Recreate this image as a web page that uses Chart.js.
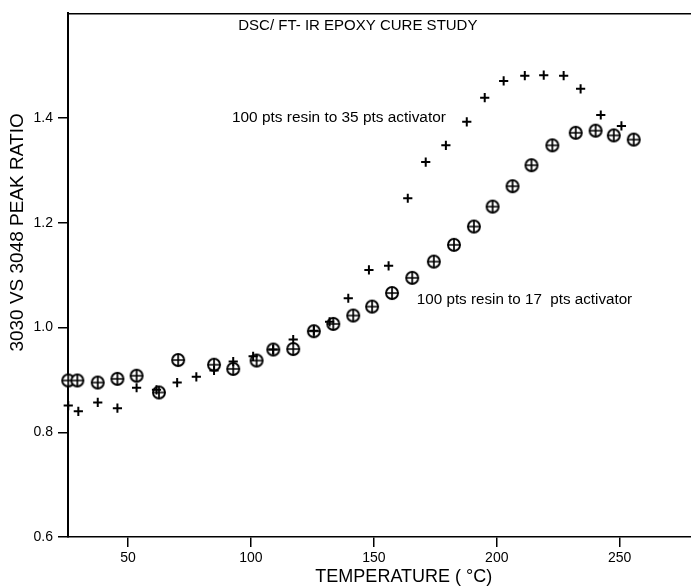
<!DOCTYPE html>
<html><head><meta charset="utf-8">
<script src="https://cdn.jsdelivr.net/npm/chart.js@4.4.1/dist/chart.umd.min.js"></script>
<style>html,body{margin:0;padding:0;background:#fff;overflow:hidden}#wrap{width:691px;height:588px}</style>
</head><body><div id="wrap"><canvas id="c" width="691" height="588"></canvas></div>
<script>
// 100 pts resin to 35 pts activator  (+ markers)
const tempHigh  = [25.7, 29.8, 37.7, 45.7, 53.5, 61.6, 70.0, 77.8, 85.0, 92.8, 100.9, 109.0, 117.2, 125.6, 132.0, 139.6, 148.0, 156.0, 163.8, 171.1, 179.3, 187.8, 195.1, 202.8, 211.4, 219.1, 227.2, 234.1, 242.3, 250.7];
const ratioHigh = [0.851, 0.840, 0.857, 0.846, 0.885, 0.881, 0.895, 0.906, 0.918, 0.935, 0.945, 0.958, 0.977, 0.994, 1.011, 1.056, 1.110, 1.118, 1.247, 1.316, 1.348, 1.393, 1.439, 1.471, 1.481, 1.482, 1.481, 1.456, 1.406, 1.385];
// 100 pts resin to 17 pts activator  (circled-plus markers)
const tempLow   = [25.7, 29.4, 37.7, 45.7, 53.5, 62.6, 70.4, 85.0, 92.8, 102.3, 109.1, 117.2, 125.6, 133.5, 141.6, 149.3, 157.4, 165.6, 174.4, 182.6, 190.7, 198.3, 206.4, 214.1, 222.6, 232.1, 240.2, 247.6, 255.7];
const ratioLow  = [0.899, 0.899, 0.895, 0.902, 0.908, 0.876, 0.938, 0.929, 0.921, 0.937, 0.958, 0.959, 0.993, 1.007, 1.023, 1.040, 1.066, 1.095, 1.126, 1.158, 1.193, 1.231, 1.270, 1.310, 1.348, 1.372, 1.376, 1.367, 1.359];
// tick labels
const xTickValues = [50, 100, 150, 200, 250];
const yTickValues = [0.6, 0.8, 1.0, 1.2, 1.4];
// texts
const chartTitle = 'DSC/ FT- IR EPOXY CURE STUDY';
const seriesHighLabel = '100 pts resin to 35 pts activator';
const seriesLowLabel = '100 pts resin to 17  pts activator';
const xTitle = 'TEMPERATURE ( °C)';
const yTitle = '3030 VS 3048 PEAK RATIO';

const FAMILY = "'Liberation Sans', Arial, Helvetica, sans-serif";
Chart.defaults.font.family = FAMILY;
Chart.defaults.color = '#000';

function circlePlus() {
  const s = 16, c = s / 2;
  const cv = document.createElement('canvas');
  cv.width = s; cv.height = s;
  const g = cv.getContext('2d');
  g.fillStyle = '#fff';
  g.strokeStyle = '#000'; g.lineWidth = 1.9;
  g.beginPath(); g.arc(c, c, 6, 0, Math.PI * 2); g.fill(); g.stroke();
  g.lineWidth = 1.7;
  g.beginPath(); g.moveTo(c, 1.5); g.lineTo(c, s - 1.5); g.moveTo(1.5, c); g.lineTo(s - 1.5, c); g.stroke();
  return cv;
}

const notes = [
  { text: chartTitle, x: 143.5, y: 1.577, align: 'center', size: 15 },
  { text: seriesHighLabel, x: 135.8, y: 1.401, align: 'center', size: 15.4 },
  { text: seriesLowLabel, x: 167.5, y: 1.053, align: 'left', size: 15.2 }
];
const notesPlugin = {
  id: 'notes',
  afterDatasetsDraw(chart) {
    const { ctx, scales } = chart;
    ctx.save();
    ctx.fillStyle = '#000';
    ctx.textBaseline = 'middle';
    notes.forEach(n => {
      ctx.font = n.size + 'px ' + FAMILY;
      ctx.textAlign = n.align;
      ctx.fillText(n.text, scales.x.getPixelForValue(n.x), scales.y.getPixelForValue(n.y));
    });
    ctx.restore();
  }
};

new Chart(document.getElementById('c'), {
  type: 'scatter',
  data: {
    datasets: [
      {
        label: seriesHighLabel,
        data: tempHigh.map((t, i) => ({ x: t, y: ratioHigh[i] })),
        xAxisID: 'x', yAxisID: 'y',
        pointStyle: 'cross', pointRadius: 4.6, pointBorderWidth: 2,
        borderColor: '#000', backgroundColor: '#000', clip: false
      },
      {
        label: seriesLowLabel,
        data: tempLow.map((t, i) => ({ x: t, y: ratioLow[i] })),
        xAxisID: 'x', yAxisID: 'y',
        pointStyle: circlePlus(), pointRadius: 7,
        borderColor: '#000', backgroundColor: '#000', clip: false
      }
    ]
  },
  options: {
    responsive: false, animation: false, devicePixelRatio: 1,
    layout: { autoPadding: false, padding: { top: 13, left: 0, right: 0, bottom: 0 } },
    plugins: { legend: { display: false }, tooltip: { enabled: false }, title: { display: false } },
    scales: {
      x: {
        type: 'linear', position: 'bottom', min: 25.6, max: 279,
        afterBuildTicks: s => { s.ticks = xTickValues.map(v => ({ value: v })); },
        afterFit: s => { s.height = 51; s.paddingRight = 0; },
        grid: { drawOnChartArea: false, drawTicks: true, tickLength: 10, color: '#000', lineWidth: 1.5 },
        border: { display: true, color: '#000', width: 1.5 },
        ticks: { color: '#000', font: { size: 14 }, padding: 3, maxRotation: 0, autoSkip: false, callback: v => String(v) },
        title: { display: true, text: '\u2003\u2003\u2002\u2009' + xTitle, color: '#000', font: { size: 18, lineHeight: 1.2 }, padding: { top: 0, bottom: 0 } }
      },
      x2: {
        type: 'linear', position: 'top', display: true, min: 0, max: 1,
        afterFit: s => { s.height = 0; },
        grid: { display: false, drawTicks: false },
        ticks: { display: false },
        border: { display: true, color: '#000', width: 1.5 }
      },
      y: {
        type: 'linear', position: 'left', min: 0.6, max: 1.6,
        afterBuildTicks: s => { s.ticks = yTickValues.map(v => ({ value: v })); },
        afterFit: s => { s.width = 68; },
        grid: { drawOnChartArea: false, drawTicks: true, tickLength: 10, color: '#000', lineWidth: 1.5 },
        border: { display: true, color: '#000', width: 2 },
        ticks: { color: '#000', font: { size: 14 }, padding: 5, callback: v => Number(v).toFixed(1) },
        title: { display: true, text: '\u2003\u2003\u2003\u2003\u2002' + yTitle, color: '#000', font: { size: 19, lineHeight: 1.2 }, padding: { top: 6, bottom: 0 } }
      }
    }
  },
  plugins: [notesPlugin]
});
</script>
</body></html>
